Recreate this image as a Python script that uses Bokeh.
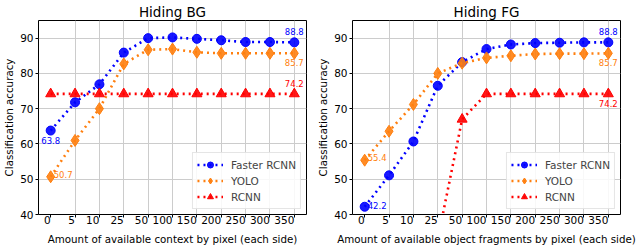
from bokeh.plotting import figure
from bokeh.layouts import row
from bokeh.models import FactorRange, Range1d, ColumnDataSource, FixedTicker, Legend
from bokeh.core.properties import value
from bokeh.embed import file_html
from bokeh.resources import INLINE

pixels = ["0", "5", "10", "25", "50", "100", "150", "200", "250", "300", "350"]

bg_faster = [63.8, 71.8, 76.9, 85.9, 90.0, 90.2, 89.8, 89.4, 88.9, 88.9, 88.8]
bg_yolo = [50.7, 61.0, 70.0, 82.7, 86.7, 86.9, 86.0, 85.7, 85.7, 85.7, 85.7]
bg_rcnn = [74.2, 74.2, 74.2, 74.2, 74.2, 74.2, 74.2, 74.2, 74.2, 74.2, 74.2]

fg_faster = [42.2, 51.1, 60.7, 76.5, 83.2, 86.9, 88.2, 88.6, 88.7, 88.8, 88.8]
fg_yolo = [55.4, 63.6, 71.2, 80.0, 82.9, 84.4, 85.0, 85.5, 85.6, 85.6, 85.7]
fg_rcnn = [5.0, 12.0, 22.0, 33.0, 67.0, 74.2, 74.2, 74.2, 74.2, 74.2, 74.2]

y_ticks = [40, 50, 60, 70, 80, 90]

FONT = "DejaVu Sans"
BLUE = "#0000ff"
ORANGE = "#ff7f0e"
RED = "#ff0000"


def make_fig(title, xlabel, faster, yolo, rcnn, bl, br, ann):
    p = figure(x_range=FactorRange(factors=pixels, range_padding=0),
               y_range=Range1d(40, 95), frame_width=268, frame_height=194,
               output_backend="svg", toolbar_location=None,
               min_border_left=bl, min_border_right=br,
               min_border_top=1, min_border_bottom=0)
    p.title.text = title
    p.title.align = "center"
    p.title.text_font = FONT
    p.title.text_font_size = "13.5px"
    p.title.text_font_style = "normal"
    p.title.text_color = "black"
    p.title.standoff = 2
    p.outline_line_color = "black"
    p.outline_line_width = 1
    p.outline_line_alpha = 1

    for ax in (p.xaxis[0], p.yaxis[0]):
        ax.major_label_text_font = FONT
        ax.major_label_text_font_size = "10.5px"
        ax.axis_label_text_font = FONT
        ax.axis_label_text_font_size = "10.3px"
        ax.axis_label_text_font_style = "normal"
        ax.major_tick_out = 3
        ax.major_tick_in = 0
        ax.minor_tick_out = 0
        ax.minor_tick_in = 0
        ax.major_label_standoff = 2
        ax.axis_label_standoff = 2
        ax.axis_line_color = None
        ax.major_tick_line_color = "black"
        ax.major_label_text_color = "black"
        ax.axis_label_text_color = "black"
    p.xaxis.axis_label = xlabel
    p.yaxis.axis_label = "Classification accuracy"
    p.yaxis.ticker = FixedTicker(ticks=y_ticks)
    p.xaxis.major_label_orientation = 0
    p.xgrid.grid_line_color = "#cccccc"
    p.ygrid.grid_line_color = "#cccccc"
    p.xgrid.grid_line_width = 1
    p.ygrid.grid_line_width = 1

    src = ColumnDataSource(dict(x=pixels, f=faster, y=yolo, r=rcnn))
    items = []
    specs = [("f", BLUE, "circle", 9, "Faster RCNN"),
             ("y", ORANGE, "diamond", 12, "YOLO"),
             ("r", RED, "triangle", 10, "RCNN")]
    for col, color, marker, size, label in specs:
        ln = p.line("x", col, source=src, line_color=color, line_width=2.6,
                    line_dash="2 4")
        sc = p.scatter("x", col, source=src, marker=marker, size=size,
                       fill_color=color, line_color=color, fill_alpha=0.9)
        items.append((label, [ln, sc]))

    leg = Legend(items=items, location="bottom_right")
    leg.label_text_font = FONT
    leg.label_text_font_size = "10.5px"
    leg.glyph_width = 26
    leg.glyph_height = 15
    leg.label_height = 15
    leg.spacing = 1
    leg.padding = 4
    leg.margin = 5
    leg.border_line_color = "#cccccc"
    leg.border_line_width = 1
    leg.background_fill_alpha = 0.85
    leg.label_standoff = 8
    p.add_layout(leg)

    for (arr, color, idx, align, base, xo, yo) in ann:
        p.text(x=[pixels[idx]], y=[arr[idx]], text=[f"{arr[idx]:.1f}"],
               text_color=color, text_font=value(FONT), text_font_size="8.5px",
               text_align=align, text_baseline=base, x_offset=xo, y_offset=yo)
    return p


ann_bg = [
    (bg_faster, BLUE, 0, "center", "top", 0, 6),
    (bg_yolo, ORANGE, 0, "left", "bottom", 3, 1),
    (bg_faster, BLUE, 10, "center", "bottom", 0, -7),
    (bg_yolo, ORANGE, 10, "center", "top", 0, 6),
    (bg_rcnn, RED, 10, "center", "bottom", 0, -7),
]
ann_fg = [
    (fg_yolo, ORANGE, 0, "left", "bottom", 3, 1),
    (fg_faster, BLUE, 0, "left", "bottom", 3, 2),
    (fg_faster, BLUE, 10, "center", "bottom", 0, -7),
    (fg_yolo, ORANGE, 10, "center", "top", 0, 6),
    (fg_rcnn, RED, 10, "center", "top", 0, 6),
]

p1 = make_fig("Hiding BG", "Amount of available context by pixel (each side)",
              bg_faster, bg_yolo, bg_rcnn, 20, 8, ann_bg)
p2 = make_fig("Hiding FG", "Amount of available object fragments by pixel (each side)",
              fg_faster, fg_yolo, fg_rcnn, 20, 20, ann_fg)

layout = row(p1, p2)
open("out.html", "w").write(file_html(layout, INLINE))
